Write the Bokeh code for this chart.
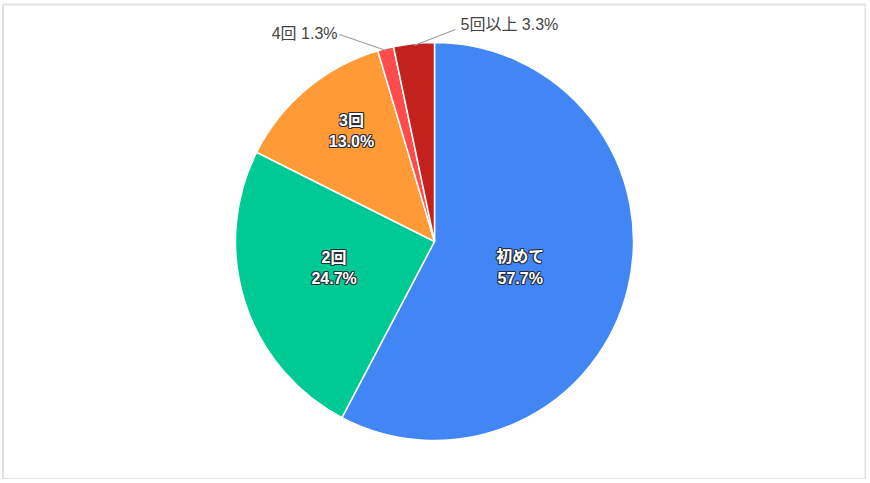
import math
from bokeh.plotting import figure
from bokeh.models import Range1d, ColumnDataSource
from bokeh.core.properties import value
from bokeh.embed import file_html
from bokeh.resources import INLINE

# ---- data ----
categories = ["初めて", "2回", "3回", "4回", "5回以上"]
shares = [57.7, 24.7, 13.0, 1.3, 3.3]
colors = ["#4285F4", "#00CA94", "#FF9A36", "#FF4B4B", "#C2221B"]
inside = [True, True, True, False, False]

# ---- style / layout ----
W, H = 866, 479
PH = 483
CX, CY, R = 434, PH - 241, 199
inner_frac = [0.45, 0.522, 0.694, None, None]
angle_shift_deg = 3.0
FONT = value("'Liberation Sans', Arial, 'Noto Sans CJK JP', sans-serif")

p = figure(width=W, height=H, output_backend="svg", toolbar_location=None,
           x_range=Range1d(0, W), y_range=Range1d(PH - H, PH),
           min_border=0, outline_line_color=None)
p.axis.visible = False
p.grid.visible = False
p.background_fill_color = "white"
p.border_fill_color = "white"

# frame
p.quad(left=[2.5], right=[865], bottom=[PH - 478.5], top=[PH - 4],
       fill_color=None, line_color="#E2E2E2", line_width=2)

total = sum(shares)
starts, ends, mids = [], [], []
cum = 0.0
for s in shares:
    a0 = math.pi / 2 - 2 * math.pi * cum / total
    cum += s
    a1 = math.pi / 2 - 2 * math.pi * cum / total
    starts.append(a0)
    ends.append(a1)
    mids.append((a0 + a1) / 2)

src = ColumnDataSource(dict(start=starts, end=ends, color=colors))
p.wedge(x=CX, y=CY, radius=R, start_angle="start", end_angle="end",
        direction="clock", fill_color="color", line_color="white",
        line_width=1.5, source=src)

# inside labels (dark halo + white text)
lx, ly, lt = [], [], []
for i, c in enumerate(categories):
    if inside[i]:
        r = R * inner_frac[i]
        a = mids[i] - math.radians(angle_shift_deg)
        lx.append(CX + r * math.cos(a))
        ly.append(CY + r * math.sin(a))
        lt.append(f"{c}\n{shares[i]:.1f}%")
common = dict(text=lt, text_font=FONT, text_font_size="16px",
              text_font_style="bold", text_align="center",
              text_baseline="middle", text_line_height=1.25)
for dx, dy in [(-1, 0), (1, 0), (0, -1), (0, 1), (-1, -1), (1, 1), (-1, 1), (1, -1)]:
    p.text(x=[v + dx for v in lx], y=[v + dy for v in ly], text_color="#262b36",
           text_alpha=0.85, **common)
p.text(x=lx, y=ly, text_color="white", **common)

# outside labels with leader lines
out_anchor = {3: (337, PH - 33, "right"), 4: (460, PH - 24, "left")}
for i, (ax, ay, al) in out_anchor.items():
    ex = CX + (R - 2) * math.cos(mids[i])
    ey = CY + (R - 2) * math.sin(mids[i])
    lx2 = ax + 2 if al == "right" else ax - 5
    ly2 = ay - 1 if al == "right" else ay - 5
    p.line(x=[ex, lx2], y=[ey, ly2], line_color="#9E9E9E", line_width=1.2)
    p.text(x=[ax], y=[ay], text=[f"{categories[i]} {shares[i]:.1f}%"],
           text_font=FONT, text_font_size="16px", text_color="#444444",
           text_align=al, text_baseline="middle")

open("out.html", "w").write(file_html(p, INLINE))
